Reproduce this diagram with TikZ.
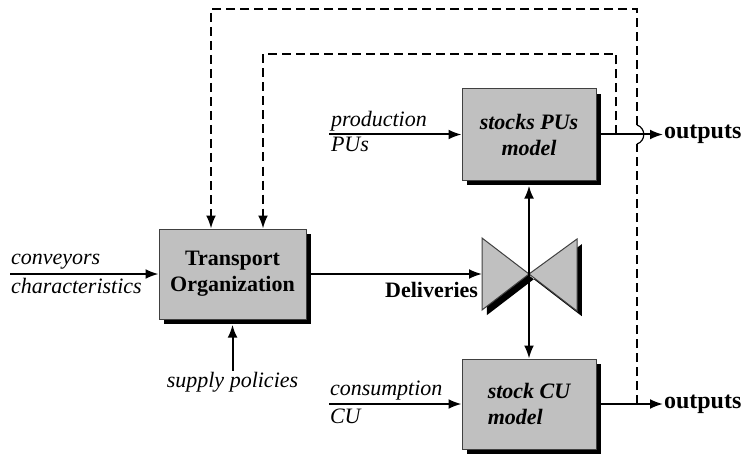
\documentclass[tikz,border=0pt]{standalone}
\usepackage{fontspec}
\setmainfont{Liberation Serif}
\usetikzlibrary{arrows.meta,shadows}
\definecolor{boxgray}{HTML}{C0C0C0}
\tikzset{
  blk/.style={draw=black!75, line width=0.5pt, fill=boxgray, inner sep=0pt,
    drop shadow={shadow xshift=2.4pt, shadow yshift=-2.6pt, fill=black, opacity=1},
    font=\fontsize{11}{13}\selectfont\bfseries},
  blki/.style={blk, font=\fontsize{11}{13}\selectfont\bfseries\itshape},
  bowtie/.style={draw=black!75, line width=0.5pt, fill=boxgray,
    drop shadow={shadow xshift=2.4pt, shadow yshift=-2.6pt, fill=black, opacity=1}},
  lbl/.style={inner sep=0pt, font=\fontsize{11}{13}\selectfont\itshape},
  outlbl/.style={inner sep=0pt, anchor=west, font=\fontsize{12}{14}\selectfont\bfseries},
  fb/.style={dash pattern=on 4.5pt off 2.5pt}
}
\begin{document}
\begin{tikzpicture}[x=0.5pt, y=-0.5pt, line width=1pt, >={Latex[length=6.5pt,width=5pt]}]
\useasboundingbox (0,0) rectangle (742,454);
\node[blk, minimum width=73.5pt, minimum height=45pt, align=center] (to) at (232.5,274) {Transport\\Organization};
\node[blki, minimum width=67pt, minimum height=45.5pt, align=center] (pus) at (529,134.5) {stocks PUs\\model};
\node[blki, minimum width=67pt, minimum height=45pt, align=left] (cu) at (529,404) {stock CU\\model};

\coordinate (bow) at (529,274);
\coordinate (bowin) at (482,274);
\filldraw[bowtie] (482,238) -- (482,310) -- (bow) -- cycle;
\filldraw[bowtie] (bow) -- (577,239) -- (577,311) -- cycle;

\node[lbl, anchor=base west] (conv) at (10,264) {conveyors};
\node[lbl, anchor=base west] (chars) at (10,293) {characteristics};
\node[lbl, anchor=base west] (prod) at (330,127) {production};
\node[lbl, anchor=base west] (prodpu) at (330,152) {PUs};
\node[lbl, anchor=base west] (cons) at (329,395) {consumption};
\node[lbl, anchor=base west] (conscu) at (329,423) {CU};
\node[lbl, anchor=base] (suppol) at (232.5,387) {supply policies};
\node[inner sep=0pt, anchor=base east, font=\fontsize{11}{13}\selectfont\bfseries] (deliv) at (479,297) {Deliveries};
\node[outlbl] (outP) at (663,134.5) {outputs};
\node[outlbl] (outC) at (663,404) {outputs};

\coordinate (convin) at (10,274);
\coordinate (prodin) at (329,134.5);
\coordinate (consin) at (329,404);
\coordinate (tapA) at (637,404);
\coordinate (tapB) at (616,134.5);
\coordinate (bridgeLo) at (637,144);
\coordinate (bridgeHi) at (637,125);

\path[->]
(convin) edge (to.west)
(prodin) edge (pus.west)
(consin) edge (cu.west)
(to.east) edge (bowin)
(suppol.north) edge ([yshift=-2.6pt]to.south)
(pus.east) edge (outP.west)
(cu.east) edge (outC.west)
;
\draw[<->] ([yshift=-2.6pt]pus.south) -- (cu.north);

\draw[fb] (tapA) -- (bridgeLo);
\draw[line width=0.6pt] (bridgeLo) .. controls (646,141) and (646,128) .. (bridgeHi);
\draw[fb,->] (bridgeHi) -- (637,9) -| ([xshift=-10.75pt]to.north);
\draw[fb,->] (tapB) -- (616,54) -| ([xshift=15.25pt]to.north);
\end{tikzpicture}
\end{document}
